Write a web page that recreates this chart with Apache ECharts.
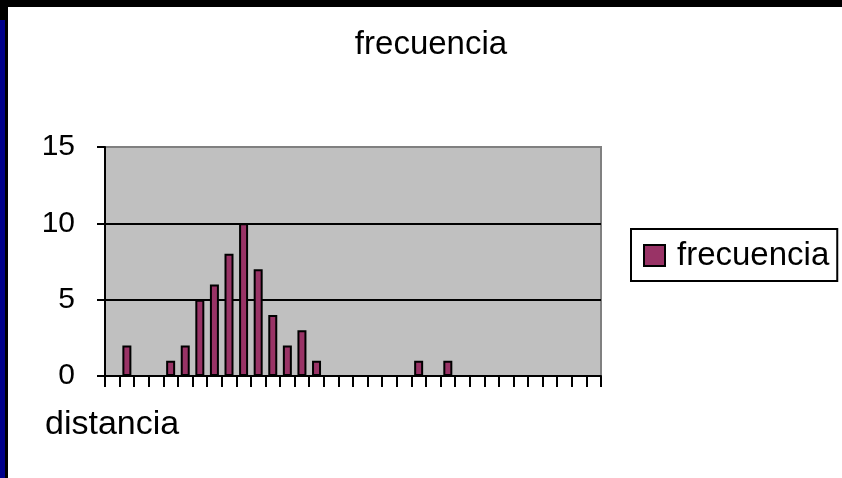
<!DOCTYPE html>
<html>
<head>
<meta charset="utf-8">
<script src="https://cdn.jsdelivr.net/npm/echarts@6/dist/echarts.min.js"></script>
<style>
html,body{margin:0;padding:0;background:#000;}
#c{width:842px;height:478px;}
</style>
</head>
<body>
<div id="c"></div>
<script>
// distance bins (no labels shown on the axis)
const categories = Array.from({length: 34}, (_, i) => String(i + 1));
const frecuencia = [0,2,0,0,1,2,5,6,8,10,7,4,2,3,1,0,0,0,0,0,0,1,0,1,0,0,0,0,0,0,0,0,0,0];
const yTicks = [0, 5, 10, 15];

const chart = echarts.init(document.getElementById('c'), null, {renderer: 'canvas'});
const font = '"Liberation Sans", Arial, sans-serif';
chart.setOption({
  animation: false,
  backgroundColor: 'transparent',
  graphic: [
    {type: 'rect', z: -20, shape: {x: 0, y: 0, width: 842, height: 478}, style: {fill: '#000'}},
    {type: 'rect', z: -19, shape: {x: 0, y: 20, width: 5, height: 458}, style: {fill: '#00008a'}},
    {type: 'rect', z: -18, shape: {x: 8, y: 7, width: 834, height: 471}, style: {fill: '#fff'}},
    {type: 'text', left: 45, top: 408, style: {text: 'distancia', font: '34px "Liberation Sans", Arial, sans-serif', fill: '#000'}}
  ],
  title: {
    text: 'frecuencia',
    left: 426, top: 23, textAlign: 'center',
    textStyle: {fontFamily: font, fontSize: 33, fontWeight: 'normal', color: '#000'}
  },
  legend: {
    data: ['frecuencia'],
    left: 631, top: 229,
    orient: 'vertical',
    borderColor: '#000', borderWidth: 2,
    padding: [10, 8, 9, 12],
    itemWidth: 21, itemHeight: 21,
    icon: 'rect',
    itemStyle: {color: '#993366', borderColor: '#000', borderWidth: 2},
    textStyle: {fontFamily: font, fontSize: 33, color: '#000', padding: [0, 0, 0, 7]}
  },
  grid: {
    left: 105, top: 147, right: 241, bottom: 102,
    show: true, backgroundColor: '#c0c0c0', borderColor: '#808080', borderWidth: 2,
    containLabel: false
  },
  xAxis: {
    type: 'category',
    data: categories,
    boundaryGap: true,
    axisLine: {show: true, lineStyle: {color: '#000', width: 2}},
    axisTick: {show: true, interval: 0, length: 11, lineStyle: {color: '#000', width: 2}},
    axisLabel: {show: false},
    splitLine: {show: false}
  },
  yAxis: {
    type: 'value',
    min: 0, max: 15, interval: 5,
    axisLine: {show: true, lineStyle: {color: '#000', width: 2}},
    axisTick: {show: true, length: 8, lineStyle: {color: '#000', width: 2}},
    axisLabel: {
      margin: 30, fontFamily: font, fontSize: 30, color: '#000',
      formatter: v => yTicks.includes(v) ? String(v) : ''
    },
    splitLine: {show: true, lineStyle: {color: ['#000', '#000', '#000', '#808080'], width: 2}}
  },
  series: [{
    name: 'frecuencia',
    type: 'bar',
    data: frecuencia,
    barWidth: 9,
    itemStyle: {color: '#993366', borderColor: '#000', borderWidth: 2}
  }]
});
</script>
</body>
</html>
